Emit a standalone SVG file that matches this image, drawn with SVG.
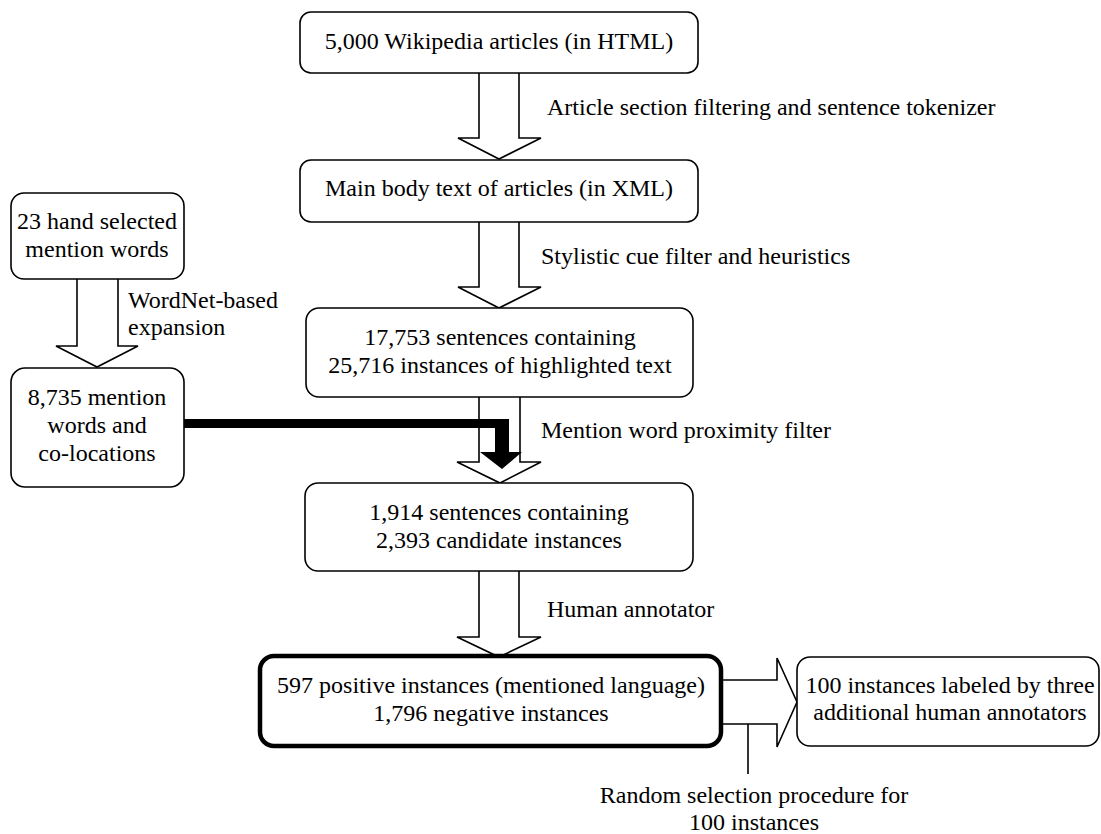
<svg xmlns="http://www.w3.org/2000/svg" width="1101" height="834" viewBox="0 0 1101 834">
<style>
text{font-family:'Liberation Serif','Times New Roman',Tinos,'DejaVu Serif',serif;font-size:24px;fill:#000}
.c{text-anchor:middle}
.box{fill:#fff;stroke:#000;stroke-width:1.6}
.bold{fill:#fff;stroke:#000;stroke-width:4.5}
.arr{fill:#fff;stroke:#000;stroke-width:1.6;stroke-linejoin:miter}
.thin{fill:none;stroke:#000;stroke-width:1.6}
</style>
<rect width="1101" height="834" fill="#fff"/>
<g id="connectors">
<path class="arr" d="M479,73 V138 H458 L499,159 L541,138 H519 V73"/>
<path class="arr" d="M479,222 V287 H458 L499,308 L541,287 H519 V222"/>
<path class="arr" d="M479,397 V462 H457 L500,483 L541,462 H520 V397"/>
<path class="arr" d="M479,571 V637 H457 L499,657 L541,637 H519 V571"/>
<path class="arr" d="M77,279 V346 H56 L97,367 L138,346 H118 V279"/>
<path class="arr" d="M721,680 H777 V658 L797,702 L777,747 V724 H721"/>
<path d="M184,419 H509 V452 H522 L502,469 L480,452 H495 V428 H184 Z" fill="#000"/>
<line class="thin" x1="748" y1="724" x2="748" y2="774"/>
<text font-family="Liberation Serif, serif" x="547" y="115">Article section filtering and sentence tokenizer</text>
<text font-family="Liberation Serif, serif" x="541" y="264">Stylistic cue filter and heuristics</text>
<text font-family="Liberation Serif, serif" x="541" y="438">Mention word proximity filter</text>
<text font-family="Liberation Serif, serif" x="547" y="617">Human annotator</text>
<text font-family="Liberation Serif, serif" x="128" y="308">WordNet-based</text>
<text font-family="Liberation Serif, serif" x="128" y="335">expansion</text>
<text font-family="Liberation Serif, serif" class="c" x="754" y="803">Random selection procedure for</text>
<text font-family="Liberation Serif, serif" class="c" x="754" y="830">100 instances</text>
</g>
<g id="n1">
<rect class="box" x="300" y="12" width="398" height="61" rx="11"/>
<text class="c" x="499" y="49">5,000 Wikipedia articles (in HTML)</text>
</g>
<g id="n2">
<rect class="box" x="300" y="160" width="398" height="62" rx="11"/>
<text class="c" x="499" y="196">Main body text of articles (in XML)</text>
</g>
<g id="n3">
<rect class="box" x="306" y="308" width="387" height="89" rx="13"/>
<text class="c" x="500" y="345">17,753 sentences containing</text>
<text class="c" x="500" y="373">25,716 instances of highlighted text</text>
</g>
<g id="n4">
<rect class="box" x="305" y="483" width="388" height="88" rx="13"/>
<text class="c" x="499" y="520">1,914 sentences containing</text>
<text class="c" x="499" y="548">2,393 candidate instances</text>
</g>
<g id="n5">
<rect class="bold" x="260" y="656" width="461" height="90" rx="14"/>
<text class="c" x="491" y="693">597 positive instances (mentioned language)</text>
<text class="c" x="491" y="721">1,796 negative instances</text>
</g>
<g id="n6">
<rect class="box" x="797" y="657" width="302" height="89" rx="13"/>
<text class="c" x="950" y="693">100 instances labeled by three</text>
<text class="c" x="950" y="720">additional human annotators</text>
</g>
<g id="n7">
<rect class="box" x="11" y="193" width="173" height="86" rx="13"/>
<text class="c" x="97" y="229">23 hand selected</text>
<text class="c" x="97" y="257">mention words</text>
</g>
<g id="n8">
<rect class="box" x="11" y="368" width="173" height="119" rx="14"/>
<text class="c" x="97" y="405">8,735 mention</text>
<text class="c" x="97" y="433">words and</text>
<text class="c" x="97" y="461">co-locations</text>
</g>
</svg>
